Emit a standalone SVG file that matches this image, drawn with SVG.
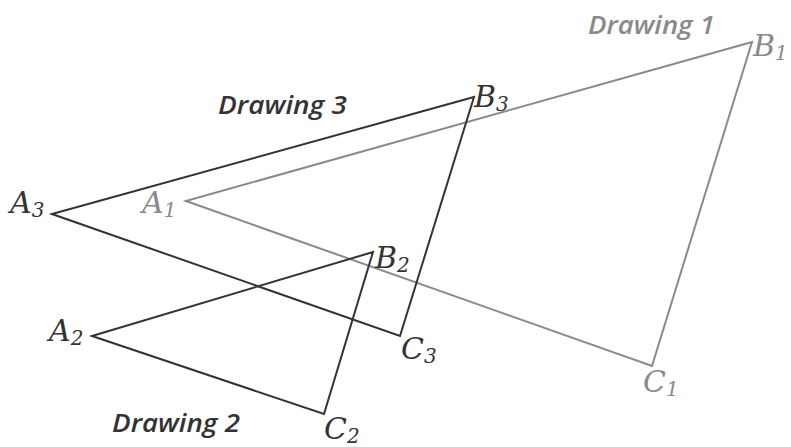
<svg xmlns="http://www.w3.org/2000/svg" width="791" height="447" viewBox="0 0 791 447">
<style>
.bg{fill:#fff}
.tri{fill:none;stroke-width:2;stroke-linejoin:miter}
.g{stroke:#8a8a8a}
.d{stroke:#333}
.v{font-family:"DejaVu Serif","Liberation Serif",serif;font-style:italic;font-size:30px}
.s{font-size:20px}
.lab{font-family:"Open Sans","Liberation Sans",sans-serif;font-style:italic;font-weight:600;font-size:26px}
.tg{fill:#8a8a8a}
.td{fill:#333}
</style>
<rect class="bg" x="0" y="0" width="791" height="447"/>
<g id="connectors">
<polygon id="drawing1-tri" class="tri g" points="186,201 752,42 652,366"/>
<polygon id="drawing3-tri" class="tri d" points="52,214 474,97 400,336"/>
<polygon id="drawing2-tri" class="tri d" points="92,336 373,252 324,414"/>
</g>
<g id="drawing1">
<text class="lab tg" x="588" y="34" textLength="127" lengthAdjust="spacingAndGlyphs">Drawing 1</text>
<text id="B1" class="v tg" x="753" y="56">B<tspan class="s" dy="4">1</tspan></text>
<text id="A1" class="v tg" x="142" y="213">A<tspan class="s" dy="4">1</tspan></text>
<text id="C1" class="v tg" x="643" y="392">C<tspan class="s" dy="4">1</tspan></text>
</g>
<g id="drawing3">
<text class="lab td" x="218" y="114" textLength="129" lengthAdjust="spacingAndGlyphs">Drawing 3</text>
<text id="B3" class="v td" x="474" y="107">B<tspan class="s" dy="4">3</tspan></text>
<text id="A3" class="v td" x="10" y="213">A<tspan class="s" dy="4">3</tspan></text>
<text id="C3" class="v td" x="401" y="359">C<tspan class="s" dy="4">3</tspan></text>
</g>
<g id="drawing2">
<text class="lab td" x="112" y="432" textLength="128" lengthAdjust="spacingAndGlyphs">Drawing 2</text>
<text id="B2" class="v td" x="375" y="268">B<tspan class="s" dy="4">2</tspan></text>
<text id="A2" class="v td" x="49" y="341">A<tspan class="s" dy="4">2</tspan></text>
<text id="C2" class="v td" x="324" y="439">C<tspan class="s" dy="4">2</tspan></text>
</g>
</svg>
